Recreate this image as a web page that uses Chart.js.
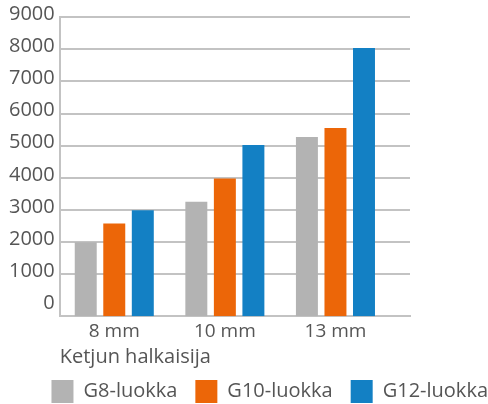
<!DOCTYPE html>
<html>
<head>
<meta charset="utf-8">
<script src="https://cdn.jsdelivr.net/npm/chart.js@4/dist/chart.umd.min.js"></script>
<style>
  html, body { margin: 0; padding: 0; background: #fff; }
  #wrap { width: 488px; height: 404px; position: relative; }
</style>
</head>
<body>
<div id="wrap"><canvas id="c"></canvas></div>
<script>
const categories = ['8 mm', '10 mm', '13 mm']
const seriesNames = ['G8-luokka', 'G10-luokka', 'G12-luokka']
const g8 = [2000, 3260, 5270]
const g10 = [2580, 3980, 5550]
const g12 = [2990, 5020, 8040]
const yTicks = [0, 1000, 2000, 3000, 4000, 5000, 6000, 7000, 8000, 9000]

const colors = ['#b3b3b3', '#ec6608', '#1380c4']
const textColor = '#555555'
const gridColor = '#c3c3c3'
const yMin = -300

const toPoints = arr => arr.map((v, i) => ({ x: i, y: v }))

const ctx = document.getElementById('c').getContext('2d')
new Chart(ctx, {
  type: 'bar',
  data: {
    datasets: [g8, g10, g12].map((vals, i) => ({
      label: seriesNames[i],
      data: toPoints(vals),
      backgroundColor: colors[i],
      borderWidth: 0,
      base: yMin,
      barPercentage: 0.77,
      categoryPercentage: 0.774
    }))
  },
  options: {
    responsive: true,
    maintainAspectRatio: false,
    animation: false,
    layout: { padding: { top: 11, right: -18, left: 4, bottom: -9 } },
    plugins: {
      tooltip: { enabled: false },
      legend: {
        position: 'bottom',
        align: 'end',
        labels: {
          color: textColor,
          font: { family: 'Open Sans', size: 20 },
          boxWidth: 22,
          boxHeight: 23,
          padding: 18
        }
      }
    },
    scales: {
      x: {
        type: 'linear',
        offset: false,
        min: -0.493,
        max: 2.674,
        afterBuildTicks: scale => { scale.ticks = categories.map((c, i) => ({ value: i })) },
        ticks: {
          color: textColor,
          font: { family: 'Open Sans', size: 19 },
          padding: 4,
          autoSkip: false,
          maxRotation: 0,
          callback: v => categories[Math.round(v)]
        },
        grid: { display: false, drawTicks: false },
        border: { display: true, color: gridColor, width: 2 },
        title: {
          display: true,
          text: 'Ketjun halkaisija',
          align: 'start',
          color: textColor,
          font: { family: 'Open Sans', size: 20 },
          padding: { top: -2, bottom: -7 }
        }
      },
      y: {
        min: yMin,
        max: 9000,
        afterBuildTicks: scale => { scale.ticks = yTicks.map(v => ({ value: v })) },
        ticks: {
          color: textColor,
          font: { family: 'Open Sans', size: 20 },
          padding: 5,
          labelOffset: -3,
          autoSkip: false,
          callback: v => String(v)
        },
        grid: {
          color: c => (c.tick && c.tick.value === 0 ? 'rgba(0,0,0,0)' : gridColor),
          lineWidth: 2,
          drawTicks: false
        },
        border: { display: true, color: gridColor, width: 2 }
      },
      yRight: {
        position: 'right',
        min: 0,
        max: 1,
        afterFit: scale => { scale.width = 96 },
        ticks: { display: false },
        grid: { display: false, drawTicks: false },
        border: { display: false }
      }
    }
  }
})
</script>
</body>
</html>
